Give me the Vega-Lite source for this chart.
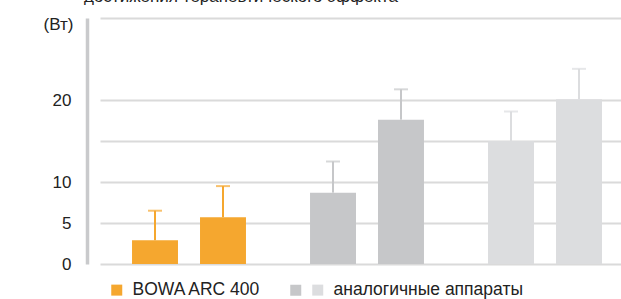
{
  "$schema": "https://vega.github.io/schema/vega-lite/v6.json",
  "width": 534,
  "height": 246,
  "autosize": "none",
  "padding": {"left": 87, "top": 18, "right": 0, "bottom": 35},
  "title": {"text": "достижения терапевтического эффекта", "anchor": "start", "frame": "group", "font": "Liberation Sans", "fontSize": 17, "fontWeight": "normal", "color": "#222222", "baseline": "alphabetic", "offset": 0, "dx": -3, "dy": 10},
  "config": {"view": {"stroke": null}, "font": "Liberation Sans"},
  "data": {"values": [
    {"series": "BOWA ARC 400", "item": "1", "value": 2.9, "upper": 6.5},
    {"series": "BOWA ARC 400", "item": "2", "value": 5.7, "upper": 9.5},
    {"series": "аналогичные аппараты (A)", "item": "1", "value": 8.7, "upper": 12.5},
    {"series": "аналогичные аппараты (A)", "item": "2", "value": 17.6, "upper": 21.3},
    {"series": "аналогичные аппараты", "item": "1", "value": 15.0, "upper": 18.6},
    {"series": "аналогичные аппараты", "item": "2", "value": 20.1, "upper": 23.8}
  ]},
  "encoding": {
    "x": {"field": "series", "type": "nominal", "sort": ["BOWA ARC 400", "аналогичные аппараты (A)", "аналогичные аппараты"], "scale": {"range": [13, 547], "paddingInner": 0, "paddingOuter": 0}, "axis": null},
    "xOffset": {"field": "item", "type": "nominal", "scale": {"paddingInner": 0.324, "paddingOuter": 0.471}}
  },
  "layer": [
    {
      "mark": {"type": "bar"},
      "encoding": {
        "y": {"field": "value", "type": "quantitative", "scale": {"domain": [0, 30], "nice": false},
          "axis": {"values": [0, 5, 10, 15, 20, 30], "labelExpr": "datum.value == 15 || datum.value == 30 ? '' : datum.label", "labelOverlap": false, "grid": true, "gridColor": "#DADADA", "gridWidth": 2, "domainColor": "#C9CACC", "domainWidth": 3.5, "ticks": false, "labelPadding": 16, "labelFontSize": 17, "labelColor": "#222222", "labelFont": "Liberation Sans", "title": "(Вт)", "titleAngle": 0, "titleAlign": "right", "titleBaseline": "middle", "titleX": -14, "titleY": 6, "titleFontWeight": "normal", "titleFontSize": 17, "titleColor": "#222222", "titleFont": "Liberation Sans"}},
        "color": {"field": "series", "type": "nominal",
          "scale": {"domain": ["BOWA ARC 400", "аналогичные аппараты (A)", "аналогичные аппараты"], "range": ["#F5A72F", "#C6C7C9", "#DCDDDF"]},
          "legend": {"orient": "none", "legendX": 21, "legendY": 263, "direction": "horizontal", "title": null, "symbolType": "square", "symbolSize": 121, "symbolStrokeWidth": 0, "symbolOpacity": 1, "labelFontSize": 17.5, "labelFont": "Liberation Sans", "labelColor": "#222222", "labelOffset": 7, "labelLimit": 400, "columnPadding": 0, "padding": 0,
            "labelExpr": "datum.value == 'аналогичные аппараты (A)' ? '' : datum.label",
            "encode": {
              "symbols": {"update": {"shape": {"signal": "datum.value == 'аналогичные аппараты (A)' ? 'M -6.1 0 L -6.1 0 M -1 -1 H 1 V 1 H -1 Z' : 'square'"}}},
              "labels": {"update": {"dx": {"signal": "datum.value == 'аналогичные аппараты (A)' ? -3 : 0"}}}
            }}}
      }
    },
    {
      "mark": {"type": "rule", "strokeWidth": 2},
      "encoding": {
        "y": {"field": "value", "type": "quantitative"},
        "y2": {"field": "upper"},
        "color": {"field": "series", "type": "nominal"}
      }
    },
    {
      "mark": {"type": "tick", "thickness": 2, "size": 14, "orient": "horizontal"},
      "encoding": {
        "y": {"field": "upper", "type": "quantitative"},
        "color": {"field": "series", "type": "nominal"}
      }
    }
  ]
}
